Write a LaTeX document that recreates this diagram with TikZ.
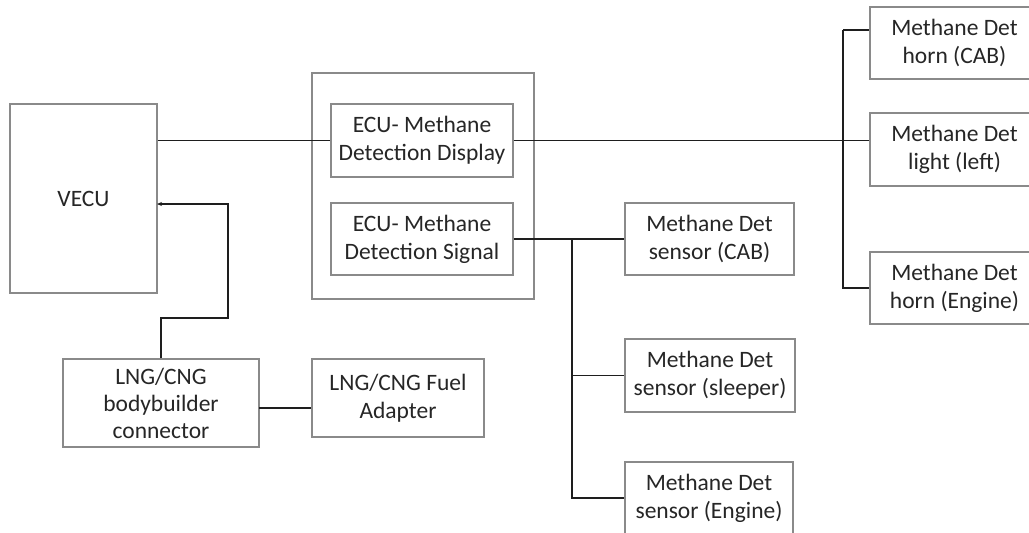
\documentclass[tikz,border=0pt]{standalone}
\usepackage{fontspec}
\setmainfont{Carlito}
\usetikzlibrary{arrows.meta,calc}
\definecolor{boxgray}{HTML}{8A8A8A}
\definecolor{txtgray}{HTML}{262626}
\definecolor{linegray}{HTML}{1E1E1E}
\begin{document}
\begin{tikzpicture}[x=1pt,y=-1pt,
  box/.style={draw=boxgray, line width=1.1pt, fill=white, align=center, inner sep=0pt,
    text=txtgray, font=\fontsize{23.5}{28}\selectfont},
  conn/.style={draw=linegray, line width=1.3pt}]
\useasboundingbox (0,0) rectangle (1029,533);
\fill[white] (0,0) rectangle (1029,533);
% nodes
\node[box, minimum width=147pt, minimum height=189pt] (vecu) at (83.5,198.5) {VECU};
\node[box, minimum width=222pt, minimum height=226pt] (outer) at (423,186) {};
\node[box, minimum width=182pt, minimum height=73pt] (disp) at (422,140.5) {ECU- Methane\\Detection Display};
\node[box, minimum width=182pt, minimum height=72pt] (sig) at (422,239) {ECU- Methane\\Detection Signal};
\node[box, minimum width=169pt, minimum height=72pt] (scab) at (709.5,239) {Methane Det\\sensor (CAB)};
\node[box, minimum width=170pt, minimum height=73pt] (ssleep) at (710,375.5) {Methane Det\\sensor (sleeper)};
\node[box, minimum width=168pt, minimum height=72pt] (seng) at (709,498) {Methane Det\\sensor (Engine)};
\node[box, minimum width=169pt, minimum height=72pt] (hcab) at (954.5,43) {Methane Det\\horn (CAB)};
\node[box, minimum width=169pt, minimum height=73pt] (light) at (954.5,149.5) {Methane Det\\light (left)};
\node[box, minimum width=169pt, minimum height=72pt] (heng) at (954.5,288) {Methane Det\\horn (Engine)};
\node[box, minimum width=196pt, minimum height=88pt, font=\fontsize{23.5}{27}\selectfont] (bb) at (161,403) {LNG/CNG\\bodybuilder\\connector};
\node[box, minimum width=172pt, minimum height=78pt] (fuel) at (398,398) {LNG/CNG Fuel\\Adapter};
% helper coordinates
\coordinate (vin) at (157,204);
\coordinate (k1) at (228,318);
\coordinate (sbus) at (572,239);
\coordinate (rbus) at (843,30);
\coordinate (bbout) at (259,408);
% connectors
\draw[conn] (vecu.east |- disp.west) -- (disp.west);
\draw[conn] (disp.east) -- (disp.east -| light.west);
\draw[conn] (rbus) -- (rbus -| hcab.west);
\draw[conn] (rbus) |- (heng.west);
\draw[conn] (sig.east) -- (scab.west);
\draw[conn] (sbus) |- (seng.west);
\draw[conn] (sbus |- ssleep.west) -- (ssleep.west);
\draw[conn] (bbout) -- (bbout -| fuel.west);
\draw[conn, -{Stealth[length=5pt,width=4pt]}] (bb.north) |- (k1) |- (vin);
\end{tikzpicture}
\end{document}
